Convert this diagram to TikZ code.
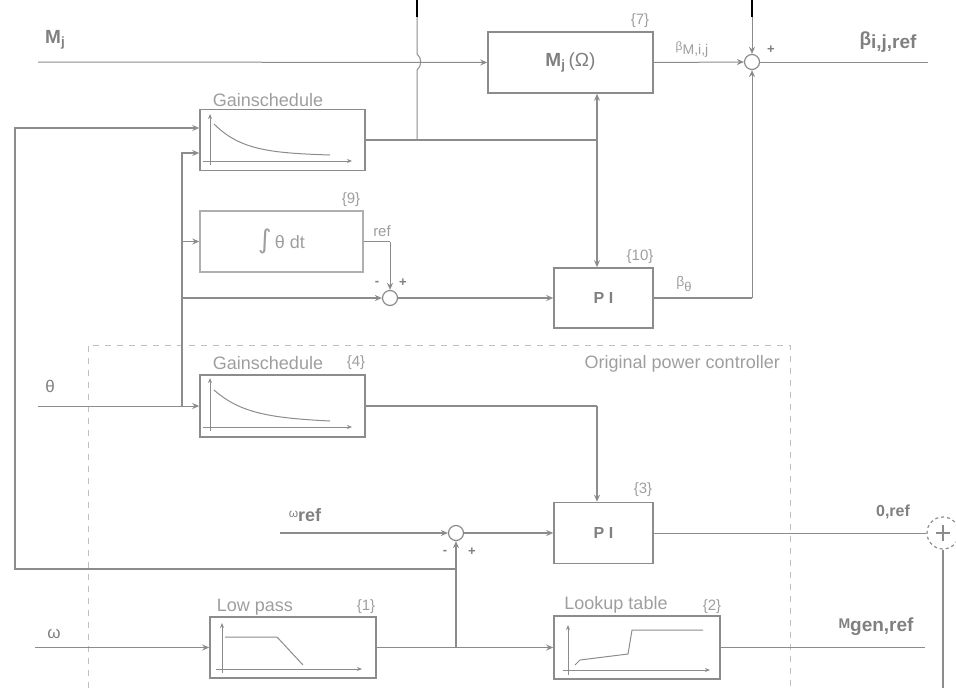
\documentclass[tikz,border=0pt]{standalone}
\usepackage{fontspec}
\setmainfont{Liberation Sans}
\newfontfamily\djv{DejaVu Sans}
\usetikzlibrary{arrows.meta,calc}
\definecolor{ln}{gray}{0.55}
\definecolor{tx}{gray}{0.62}
\definecolor{txd}{gray}{0.5}
\definecolor{dsh}{gray}{0.75}
\tikzset{
  blk/.style={draw=ln, line width=1.6pt, rectangle, inner sep=0pt, text=txd},
  lblk/.style={draw=ln!70, line width=1.4pt, rectangle, inner sep=0pt, text=tx},
  sumc/.style={draw=ln, line width=1.2pt, circle, minimum size=15pt, inner sep=0pt},
  wire/.style={draw=ln, line width=1.6pt},
  thinw/.style={draw=ln, line width=1pt},
  arr/.style={-{Stealth[length=7pt,width=6pt]}},
  lbl/.style={text=tx, font=\fontsize{18}{20}\selectfont, inner sep=0pt},
  num/.style={text=tx, font=\fontsize{15}{18}\selectfont, inner sep=0pt},
  sgn/.style={text=txd, font=\fontsize{13}{14}\selectfont\bfseries, inner sep=0pt},
  big/.style={text=txd, font=\fontsize{19}{22}\selectfont\bfseries, inner sep=0pt},
  axis/.style={draw=ln, line width=1pt, -{Stealth[length=5pt,width=4pt]}},
  crv/.style={draw=ln, line width=1pt},
  region/.style={draw=dsh, line width=1pt, dash pattern=on 6pt off 6pt},
}
\begin{document}
\begin{tikzpicture}[x=1pt,y=-1pt]
\useasboundingbox (0,0) rectangle (956,688);

% region of original controller
\draw[region] (88,688) -- (88,345) -- (790,345) -- (790,688);
\node[lbl, anchor=east] (orig) at (780,364) {Original power controller};

% blocks
\node[blk, minimum width=165pt, minimum height=61pt, font=\fontsize{19}{22}\selectfont] (mj) at (570.5,62.5) {\textbf{M}\textsubscript{\textbf{j}}\,(Ω)};
\node[blk, minimum width=165pt, minimum height=61pt] (gs1) at (282.5,140) {};
\node[lblk, minimum width=163pt, minimum height=61pt, font=\fontsize{18}{20}\selectfont] (integ) at (281.5,241.5) {{\djv\fontsize{26}{26}\selectfont ∫}\,θ dt};
\node[blk, minimum width=99pt, minimum height=60pt, font=\fontsize{16}{18}\selectfont\bfseries] (pi10) at (603.5,298) {P I};
\node[blk, minimum width=165pt, minimum height=62pt] (gs4) at (282.5,406) {};
\node[blk, minimum width=99pt, minimum height=61pt, font=\fontsize{16}{18}\selectfont\bfseries] (pi3) at (603.5,533) {P I};
\node[blk, minimum width=166pt, minimum height=61pt] (lp) at (293,647.5) {};
\node[blk, minimum width=166pt, minimum height=63pt] (lut) at (637,647.5) {};

% summing junctions
\node[sumc] (s1) at (752,62) {};
\node[sumc] (s2) at (390,298) {};
\node[sumc] (s3) at (456,533) {};
\node[draw=ln, line width=1.2pt, dashed, circle, minimum size=32pt, inner sep=0pt] (s4) at (943,533) {};
\draw[ln, line width=1.8pt] ($(s4)+(-7,0)$) -- ($(s4)+(7,0)$) ($(s4)+(0,-8)$) -- ($(s4)+(0,8)$);

% block titles and numbers
\node[num] (n7) at (640,21) {\{7\}};
\node[lbl] (t1) at (268,100) {Gainschedule};
\node[num] (n9) at (351,200) {\{9\}};
\node[num] (n10) at (640,257) {\{10\}};
\node[lbl] (t4) at (268,363) {Gainschedule};
\node[num] (n4) at (356,363) {\{4\}};
\node[num] (n3) at (643,490) {\{3\}};
\node[lbl] (t1lp) at (255,607) {Low pass};
\node[num] (n1) at (366,607) {\{1\}};
\node[lbl] (tlut) at (616,605) {Lookup table};
\node[num] (n2) at (712,607) {\{2\}};

% signal labels
\node[big, anchor=west] (lmj) at (45,40) {M\textsubscript{j}};
\node[text=tx, inner sep=0pt] (lbm) at (692,50) {{\fontsize{12}{12}\selectfont β}\raisebox{-4pt}{\fontsize{14}{14}\selectfont M,i,j}};
\node[sgn] (p1) at (771,50) {+};
\node[big] (lbref) at (888,42) {β\raisebox{-3pt}{i,j,ref}};
\node[text=tx, font=\fontsize{15}{16}\selectfont, inner sep=0pt] (lref) at (382,231) {ref};
\node[sgn] (m2) at (377,283) {-};
\node[sgn] (p2) at (403,283) {+};
\node[text=tx, inner sep=0pt] (lb0) at (684,284) {{\fontsize{14}{14}\selectfont β}\raisebox{-5pt}{\fontsize{13}{13}\selectfont θ}};
\node[text=txd, font=\fontsize{17}{18}\selectfont, inner sep=0pt] (lth) at (50,386) {θ};
\node[text=txd, inner sep=0pt] (lwref) at (305,515) {\raisebox{4pt}{\fontsize{12}{12}\selectfont ω}{\fontsize{18}{18}\selectfont\bfseries ref}};
\node[sgn] (m3) at (445,552) {-};
\node[sgn] (p3) at (472,552) {+};
\node[big, font=\fontsize{16}{18}\selectfont\bfseries] (l0ref) at (893,512) {0,ref};
\node[text=txd, font=\fontsize{17}{18}\selectfont, inner sep=0pt] (lw) at (54,634) {ω};
\node[big] (lmgen) at (876,627) {{\fontsize{14}{14}\selectfont M}\raisebox{-3pt}{gen,ref}};

% coordinates
\coordinate (t1a) at (752,0);   \coordinate (t1b) at (752,17);
\coordinate (t2a) at (417,0);   \coordinate (t2b) at (417,17);
\coordinate (hopA) at (417,54); \coordinate (hopB) at (417,70);
\coordinate (j417) at (417,140);
\coordinate (j597) at (597,140);
\coordinate (mjin) at (38,62);
\coordinate (bref) at (928,62);
\coordinate (b0c) at (752,298);
\coordinate (L1) at (15,128); \coordinate (L2) at (15,569); \coordinate (L3) at (456,569);
\coordinate (jlp) at (456,647.5);
\coordinate (v1) at (182,153); \coordinate (v2) at (182,241.5); \coordinate (v3) at (182,298); \coordinate (v4) at (182,406);
\coordinate (thin) at (38,406);
\coordinate (refc) at (390,241.5);
\coordinate (j597b) at (597,406);
\coordinate (wref) at (280,533);
\coordinate (win) at (35,647.5);
\coordinate (mgen) at (925,647.5);
\coordinate (s4b) at (943,688);

% black stubs at top
\draw[black, line width=2.2pt] (t1a) -- (t1b);
\draw[black, line width=2.2pt] (t2a) -- (t2b);

% connectors
\draw[thinw,arr] (mjin) -- (mj.west);
\draw[thinw,arr] (mj.east) -- (s1.west);
\draw[thinw] (s1.east) -- (bref);
\draw[thinw,arr] (t1b) -- (s1.north);
\draw[wire] (pi10.east) -- (b0c);
\draw[thinw,arr] (b0c) -- (s1.south);
\draw[thinw] (t2b) -- (hopA) .. controls (422,58) and (422,66) .. (hopB) -- (j417);
\draw[wire] (gs1.east) -- (j597);
\draw[wire,arr] (j597) -- (j597 |- mj.south);
\draw[wire,arr] (j597) -- (j597 |- pi10.north);
\draw[wire,arr] (L3) -- (L2) -- (L1) -- (L1 -| gs1.west);
\draw[wire,arr] (jlp) -- (s3.south);
\draw[wire,arr] (v4) -- (v1) -- (v1 -| gs1.west);
\draw[thinw,arr] (v2) -- (integ.west);
\draw[wire,arr] (v3) -- (s2.west);
\draw[thinw] (integ.east) -- (refc);
\draw[thinw,arr] (refc) -- (s2.north);
\draw[wire,arr] (s2.east) -- (pi10.west);
\draw[thinw,arr] (thin) -- (gs4.west);
\draw[wire] (gs4.east) -- (j597b);
\draw[wire,arr] (j597b) -- (j597b |- pi3.north);
\draw[wire,arr] (wref) -- (s3.west);
\draw[wire,arr] (s3.east) -- (pi3.west);
\draw[thinw] (pi3.east) -- (s4.west);
\draw[wire] (s4.south) -- (s4b);
\draw[thinw,arr] (win) -- (lp.west);
\draw[wire,arr] (lp.east) -- (lut.west);
\draw[wire] (lut.east) -- (mgen);

% small graphs inside blocks
\draw[axis] (210,165) -- (210,114);
\draw[axis] (203,161) -- (352,161);
\draw[crv] (214,124) .. controls (240,150) and (270,153) .. (330,155);
\draw[axis] (210,431) -- (210,378);
\draw[axis] (203,427) -- (352,427);
\draw[crv] (214,390) .. controls (240,413) and (270,418) .. (330,421);
\draw[axis] (222,673) -- (222,623);
\draw[axis] (216,669) -- (362,669);
\draw[crv] (225,637) -- (277,637) -- (303,665);
\draw[axis] (568,675) -- (568,625);
\draw[axis] (563,670) -- (710,670);
\draw[crv] (575,665) -- (580,660) -- (628,654) -- (632,630) -- (703,630);
\end{tikzpicture}
\end{document}
